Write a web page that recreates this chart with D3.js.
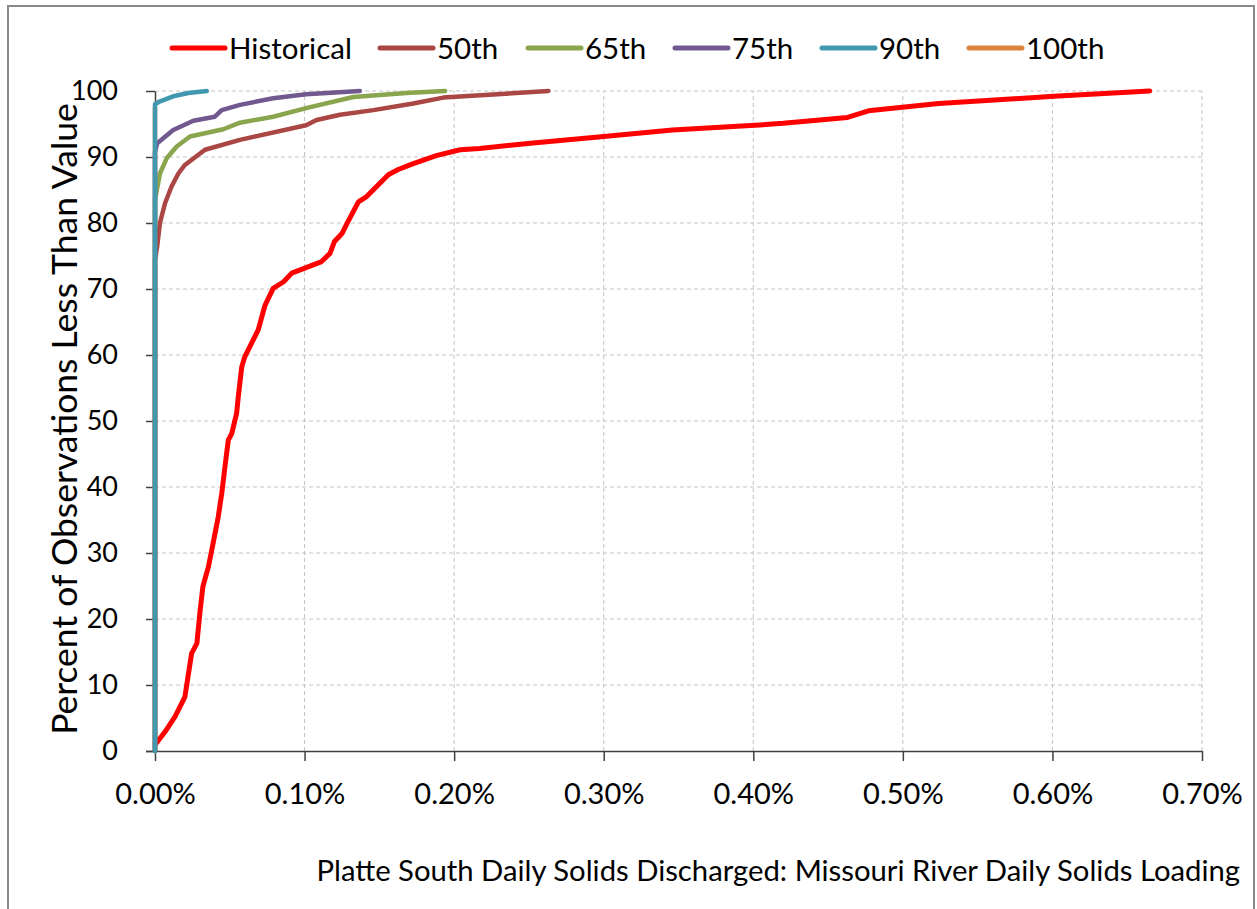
<!DOCTYPE html>
<html>
<head>
<meta charset="utf-8">
<script src="https://cdn.jsdelivr.net/npm/d3@7"></script>
<style>
  html,body{margin:0;padding:0;background:#fff;}
  svg{display:block;}
  text{font-family:Lato,"Open Sans",sans-serif;fill:#000;}
</style>
</head>
<body>
<script>
// ---- Data (x in percent, y = percent of observations less than value) ----
const seriesNames = ["Historical","50th","65th","75th","90th","100th"];
const seriesColors = ["#FF0000","#AA4643","#89A54E","#71588F","#4198AF","#DB843D"];

const historical = [
  [0.001,1.2],[0.0067,2.9],[0.0134,5.2],[0.020,8.2],[0.021,9.7],[0.0245,14.8],[0.028,16.3],
  [0.030,20.9],[0.032,24.9],[0.0357,27.9],[0.038,30.5],[0.0423,35.5],[0.0446,39.0],
  [0.0468,43.1],[0.049,47.1],[0.0513,48.1],[0.0546,51.2],[0.0557,53.7],[0.058,58.2],
  [0.060,59.7],[0.0646,61.8],[0.069,63.8],[0.0735,67.5],[0.079,70.1],[0.086,71.1],
  [0.0914,72.4],[0.111,74.1],[0.117,75.4],[0.120,77.2],[0.125,78.4],[0.129,80.2],
  [0.136,83.2],[0.1415,84.0],[0.148,85.5],[0.156,87.3],[0.1626,88.1],[0.1727,89.0],
  [0.188,90.2],[0.204,91.1],[0.217,91.3],[0.251,92.1],[0.300,93.1],[0.346,94.1],
  [0.401,94.8],[0.420,95.1],[0.463,96.0],[0.477,97.0],[0.524,98.1],[0.601,99.2],[0.665,100]
];
const p50 = [
  [0,0],[0,74.4],[0.0015,76.5],[0.0033,80.0],[0.0067,83.0],[0.011,85.5],[0.0156,87.5],
  [0.020,88.8],[0.0334,91.1],[0.0568,92.6],[0.101,94.8],[0.108,95.6],[0.1237,96.4],
  [0.146,97.1],[0.1727,98.1],[0.1927,99.0],[0.215,99.3],[0.263,100]
];
const p65 = [
  [0,0],[0,83.5],[0.0033,87.5],[0.0078,89.8],[0.0145,91.6],[0.0234,93.1],[0.0457,94.2],
  [0.0568,95.2],[0.079,96.1],[0.101,97.4],[0.1326,99.1],[0.168,99.7],[0.194,100]
];
const p75 = [
  [0,0],[0,90.8],[0.0015,92.1],[0.0122,94.1],[0.0256,95.5],[0.040,96.1],[0.0446,97.1],
  [0.0568,97.9],[0.079,98.9],[0.101,99.5],[0.137,100]
];
const p90 = [
  [0,0],[0,98.0],[0.003,98.4],[0.0122,99.2],[0.0223,99.7],[0.0346,100]
];
const p100 = [
  [0,0],[0,97.5]
];
const seriesData = [historical,p50,p65,p75,p90,p100];
const drawOrder = [5,0,1,2,3,4];

const xTicks = [0,0.1,0.2,0.3,0.4,0.5,0.6,0.7];
const yTicks = [0,10,20,30,40,50,60,70,80,90,100];
const xTitle = "Platte South Daily Solids Discharged: Missouri River Daily Solids Loading";
const yTitle = "Percent of Observations Less Than Value";

// ---- Layout ----
const W = 1257, H = 909;
const svg = d3.select("body").append("svg").attr("width",W).attr("height",H);
svg.append("rect").attr("width",W).attr("height",H).attr("fill","#fff");
svg.append("rect").attr("x",8).attr("y",6).attr("width",1246).attr("height",920)
  .attr("fill","none").attr("stroke","#8a8a8a").attr("stroke-width",2);

const x = d3.scaleLinear().domain([0,0.7]).range([155,1202]);
const y = d3.scaleLinear().domain([0,100]).range([751,91]);

// gridlines
const grid = svg.append("g");
grid.selectAll("line.h").data(yTicks.filter(d=>d>0)).join("line")
  .attr("x1",x(0)).attr("x2",x(0.7)).attr("y1",d=>y(d)).attr("y2",d=>y(d))
  .attr("stroke","#c4c4c4").attr("stroke-width",1).attr("stroke-dasharray","4,3");
grid.selectAll("line.v").data(xTicks.filter(d=>d>0)).join("line")
  .attr("y1",y(0)).attr("y2",y(100)).attr("x1",d=>x(d)).attr("x2",d=>x(d))
  .attr("stroke","#c4c4c4").attr("stroke-width",1).attr("stroke-dasharray","4,3");

// axes
const xAxis = svg.append("g").attr("transform",`translate(0,${y(0)})`)
  .call(d3.axisBottom(x).tickValues(xTicks).tickFormat(d=>d3.format(".2f")(d)+"%").tickSizeInner(10).tickSizeOuter(0));
xAxis.select(".domain").attr("stroke","#404040").attr("stroke-width",1.5).attr("d",`M${x(0)-9},0.5H${x(0.7)}`);
xAxis.selectAll(".tick line").attr("stroke","#404040").attr("stroke-width",1.5);
xAxis.selectAll(".tick text").attr("font-size",29).attr("font-family","Lato").attr("fill","#000").attr("y",32).attr("dy","0.71em");

const yAxis = svg.append("g").attr("transform",`translate(${x(0)},0)`)
  .call(d3.axisLeft(y).tickValues(yTicks).tickSizeInner(9).tickSizeOuter(0));
yAxis.select(".domain").attr("stroke","#404040").attr("stroke-width",1.5);
yAxis.selectAll(".tick line").attr("stroke","#404040").attr("stroke-width",1.5);
yAxis.selectAll(".tick text").attr("font-size",27).attr("font-family","Lato").attr("fill","#000").attr("x",-37);

// lines
const line = d3.line().x(d=>x(d[0])).y(d=>y(d[1]));
const lines = svg.append("g");
drawOrder.forEach(i=>{
  lines.append("path").datum(seriesData[i]).attr("d",line)
    .attr("fill","none").attr("stroke",seriesColors[i])
    .attr("stroke-width", i===0?5:4.5)
    .attr("stroke-linejoin","round").attr("stroke-linecap","round");
});

// legend
const legendX = [172,380,528,675,822,969];
const leg = svg.append("g");
seriesNames.forEach((n,i)=>{
  const g = leg.append("g").attr("transform",`translate(${legendX[i]},48)`);
  g.append("line").attr("x1",0).attr("x2",53).attr("y1",0).attr("y2",0)
    .attr("stroke",seriesColors[i]).attr("stroke-width",5).attr("stroke-linecap","round");
  g.append("text").attr("x",57).attr("y",0).attr("dy","0.36em").attr("font-size",29.5).text(n);
});

// titles
function fit(sel, target){
  const n = sel.node(); let fs = +sel.attr("font-size");
  const len = n.getComputedTextLength();
  sel.attr("font-size", fs*target/len);
}
const xt = svg.append("text").attr("x",1240).attr("y",881).attr("text-anchor","end")
  .attr("font-size",24).text(xTitle);
fit(xt, 924);
const yt = svg.append("text").attr("transform","translate(77,419) rotate(-90)")
  .attr("text-anchor","middle").attr("font-size",28).text(yTitle);
fit(yt, 632);
</script>
</body>
</html>
